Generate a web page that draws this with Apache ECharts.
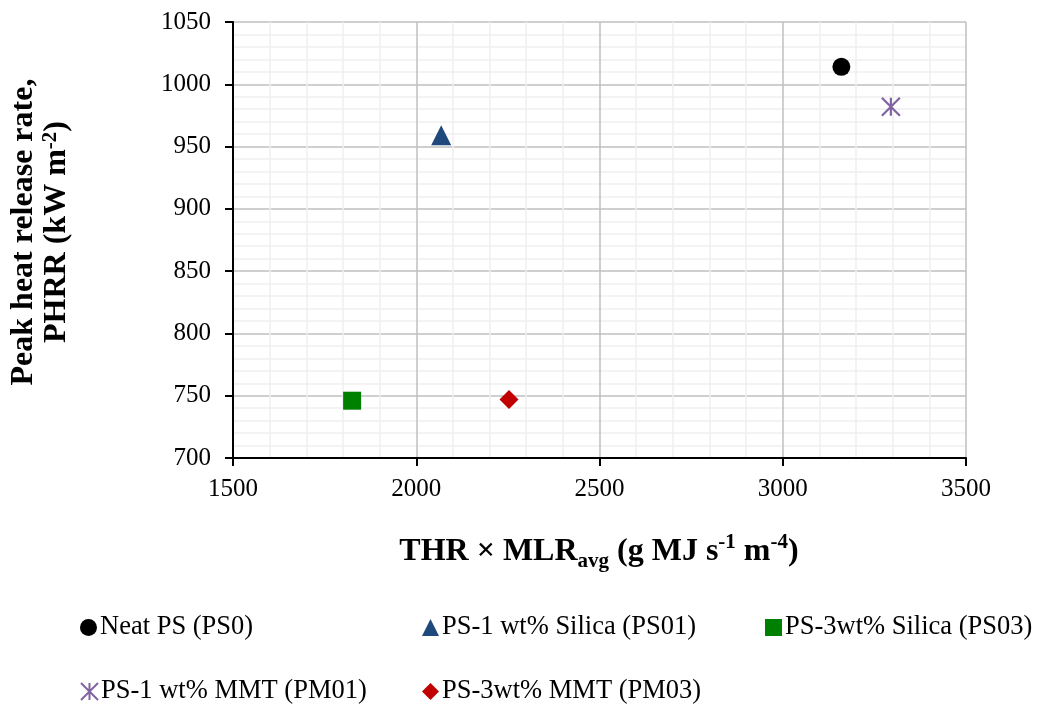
<!DOCTYPE html>
<html><head><meta charset="utf-8">
<script src="https://cdn.jsdelivr.net/npm/echarts@6/dist/echarts.min.js"></script>
<style>html,body{margin:0;padding:0;background:#fff}#c{width:1039px;height:707px}</style>
</head><body><div id="c"></div>
<script>
const seriesNames = ['Neat PS (PS0)','PS-1 wt% Silica (PS01)','PS-3wt% Silica (PS03)','PS-1 wt% MMT (PM01)','PS-3wt% MMT (PM03)'];
const xValues = [3160, 2068, 1825, 3295, 2253];
const yValues = [1014, 959, 746, 982, 747];
const xTicks = [1500, 2000, 2500, 3000, 3500];
const yTicks = [700, 750, 800, 850, 900, 950, 1000, 1050];

const star = 'path://M0,0L10,10M10,0L0,10M5,0L5,10';
const styles = [
  {symbol:'circle', size:18, color:'#000000'},
  {symbol:'triangle', size:20, color:'#1f497d'},
  {symbol:'rect', size:18, color:'#008000'},
  {symbol:star, size:18, color:'#8064a2', stroke:true},
  {symbol:'diamond', size:19, color:'#c00000'}
];
const legendPos = [[80,614],[422,614],[765,614],[80,678],[422,678]];
const font = 'Liberation Serif';

const series = seriesNames.map((n,i)=>({
  name:n, type:'scatter', symbol:styles[i].symbol, symbolSize:styles[i].size,
  data:[[xValues[i], yValues[i]]],
  itemStyle: styles[i].stroke ? {color:'rgba(0,0,0,0)', borderColor:styles[i].color, borderWidth:2.2, opacity:1} : {color:styles[i].color, opacity:1},
  z:5
}));

const legends = seriesNames.map((n,i)=>({
  data:[{name:n, icon: styles[i].symbol}],
  left:legendPos[i][0], top:legendPos[i][1],
  itemWidth:17, itemHeight:17, itemGap:0, padding:0,
  textStyle:{fontFamily:font, fontSize:26.5, color:'#000', padding:[0,0,0,-2]},
  selectedMode:false
}));

const chart = echarts.init(document.getElementById('c'), null, {renderer:'canvas'});
chart.setOption({
  animation:false,
  backgroundColor:'#fff',
  grid:{left:233, right:73, top:22, bottom:249, containLabel:false},
  legend: legends,
  xAxis:{
    type:'value', min:xTicks[0], max:xTicks[xTicks.length-1], interval:500,
    axisLine:{show:true, onZero:false, lineStyle:{color:'#000', width:2}},
    axisTick:{show:true, length:8, lineStyle:{color:'#000', width:2}},
    axisLabel:{fontFamily:font, fontSize:25, color:'#000', margin:19, formatter:v=>String(v)},
    splitLine:{show:true, lineStyle:{color:'#bfbfbf', width:1.5}},
    minorTick:{show:false, splitNumber:5},
    minorSplitLine:{show:true, lineStyle:{color:'#efefef', width:1.5}}
  },
  yAxis:{
    type:'value', min:yTicks[0], max:yTicks[yTicks.length-1], interval:50,
    axisLine:{show:true, onZero:false, lineStyle:{color:'#000', width:2}},
    axisTick:{show:true, length:8, lineStyle:{color:'#000', width:2}},
    axisLabel:{fontFamily:font, fontSize:25, color:'#000', margin:22, formatter:v=>String(v)},
    splitLine:{show:true, lineStyle:{color:'#bfbfbf', width:1.5}},
    minorTick:{show:false, splitNumber:5},
    minorSplitLine:{show:true, lineStyle:{color:'#efefef', width:1.5}}
  },
  graphic:[
    {type:'text', x:599, y:552, z:10,
     style:{
       text:'{b|THR × MLR}{sub|avg}{b| (g MJ s}{sup|-1}{b| m}{sup|-4}{b|)}',
       align:'center', verticalAlign:'middle', fill:'#000',
       rich:{
         b:{fontFamily:font, fontWeight:'bold', fontSize:32, fill:'#000', lineHeight:40},
         sub:{fontFamily:font, fontWeight:'bold', fontSize:21, fill:'#000', verticalAlign:'bottom', lineHeight:40, padding:[14,0,0,0]},
         sup:{fontFamily:font, fontWeight:'bold', fontSize:21, fill:'#000', verticalAlign:'top', lineHeight:40, padding:[0,0,14,0]}
       }
     }},
    {type:'text', x:40, y:232, rotation:Math.PI/2, z:10,
     style:{
       text:'{b|Peak heat release rate,}\n{b|PHRR (kW m}{sup|-2}{b|)}',
       align:'center', verticalAlign:'middle', fill:'#000',
       rich:{
         b:{fontFamily:font, fontWeight:'bold', fontSize:32, fill:'#000', lineHeight:33, align:'center'},
         sup:{fontFamily:font, fontWeight:'bold', fontSize:21, fill:'#000', verticalAlign:'top', lineHeight:33, padding:[0,0,12,0]}
       }
     }}
  ],
  series: series
});
</script>
</body></html>
